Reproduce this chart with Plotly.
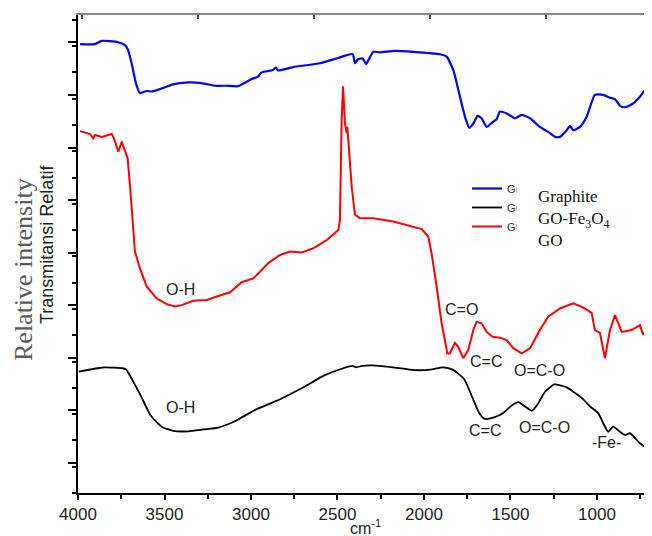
import plotly.graph_objects as go

# ---- data (wavenumber in cm^-1, relative intensity in arbitrary units 0-100) ----
graphite_wn = [3988,3902,3863,3769,3728,3711,3690,3665,3642,3603,3574,3526,3451,3364,3295,
               3208,3141,3075,2996,2960,2938,2873,2856,2844,2757,2601,2505,2412,2399,2383,
               2354,2335,2316,2293,2254,2168,2062,1908,1869,1831,1792,1763,1738,1715,1690,
               1667,1638,1600,1580,1561,1522,1474,1435,1387,1330,1272,1243,1214,1175,1156,
               1137,1098,1060,1012,964,925,896,867,838,790,752,723,682]
graphite_y = [93.9,93.9,94.6,94.3,93.7,92.7,89.9,85.7,83.7,84.1,84.0,84.5,85.5,85.9,85.8,
              85.2,85.2,85.1,86.6,87.1,88.0,88.5,89.0,88.4,89.1,89.9,90.9,91.8,89.9,90.7,
              90.9,89.7,90.9,92.3,92.2,92.5,92.3,91.8,91.3,88.5,82.9,78.7,76.4,77.3,78.9,
              78.4,76.6,77.7,78.2,79.8,79.4,78.4,79.1,78.4,76.6,75.3,74.5,74.5,75.9,76.8,
              75.9,76.6,78.7,83.3,83.3,82.7,82.4,81.0,80.7,81.5,82.9,84.2,83.0]

go_wn = [3988,3931,3912,3902,3863,3805,3792,3767,3747,3734,3713,3699,3684,3671,3642,
         3603,3545,3487,3439,3401,3334,3256,3198,3121,3054,2987,2948,2900,2832,2775,
         2707,2640,2563,2495,2486,2476,2468,2457,2447,2443,2418,2399,2370,2293,2178,
         2100,2013,1975,1956,1927,1898,1865,1850,1821,1802,1773,1744,1715,1696,1667,
         1638,1603,1561,1522,1484,1435,1387,1330,1282,1214,1137,1079,1031,1012,983,
         954,925,896,857,800,752,733,704,682]
go_y = [75.7,75.1,74.2,74.9,74.5,75.1,74.2,71.4,73.5,72.1,70.0,64.1,57.1,50.5,47.0,
        43.2,40.7,39.5,39.0,39.3,40.2,40.4,41.1,42.0,44.1,44.9,46.3,48.1,49.8,50.5,
        50.3,51.2,52.9,55.0,57.1,78.0,85.1,77.3,75.3,76.6,64.1,58.2,57.5,57.5,56.8,
        56.1,55.2,53.6,50.1,43.2,35.5,29.2,29.2,31.4,30.6,28.2,29.9,34.1,35.8,35.5,
        33.7,32.7,32.5,32.0,30.3,29.2,30.3,34.1,36.9,38.6,39.7,38.8,37.7,34.1,33.5,
        28.2,34.1,37.2,33.7,34.1,35.1,33.1,34.8,33.5]

gofe_wn = [3995,3886,3842,3744,3723,3679,3635,3580,3514,3450,3362,3275,3188,3100,2969,
           2838,2708,2576,2467,2413,2391,2358,2293,2184,2053,1965,1889,1835,1769,1726,
           1682,1649,1595,1540,1497,1453,1420,1376,1344,1300,1246,1180,1137,1082,1040,
           993,964,935,906,867,838,809,752,682]
gofe_y = [25.4,26.1,26.3,26.1,25.9,23.2,20.2,16.2,13.8,13.0,12.9,13.3,13.7,14.9,17.5,
          19.5,21.9,24.6,26.1,26.6,26.3,26.6,26.7,26.3,25.7,25.8,26.3,25.8,23.9,20.5,
          16.8,15.5,15.8,16.8,18.2,19.0,18.2,17.2,18.5,21.2,22.7,22.2,21.2,19.7,18.1,
          16.7,14.6,12.8,13.9,12.8,12.1,12.5,10.4,8.6]

# peak labels: (text, wavenumber, intensity)
labels_go = [("O-H", 3410, 42.5), ("C=O", 1782, 38.4), ("C=C", 1643, 27.6), ("O=C-O", 1335, 25.7)]
labels_gofe = [("O-H", 3410, 17.8), ("C=C", 1646, 13.0), ("O=C-O", 1301, 13.8), ("-Fe-", 944, 10.5)]

x_ticks_step = 500

fig = go.Figure()
fig.add_trace(go.Scatter(x=graphite_wn, y=graphite_y, mode="lines", name="Graphite",
                         line=dict(color="#0000FF", width=2.2, shape="spline", smoothing=0.5)))
fig.add_trace(go.Scatter(x=gofe_wn, y=gofe_y, mode="lines", name="GO-Fe3O4",
                         line=dict(color="#000000", width=1.8, shape="spline", smoothing=0.5)))
fig.add_trace(go.Scatter(x=go_wn, y=go_y, mode="lines", name="GO",
                         line=dict(color="#FF0000", width=2)))
# empty traces so the secondary (frame) axes get drawn
fig.add_trace(go.Scatter(x=[], y=[], xaxis="x2", yaxis="y", showlegend=False, hoverinfo="skip"))
fig.add_trace(go.Scatter(x=[], y=[], xaxis="x", yaxis="y2", showlegend=False, hoverinfo="skip"))

ann = []
for t, xv, yv in labels_go + labels_gofe:
    ann.append(dict(x=xv, y=yv, xref="x", yref="y", text=t, showarrow=False,
                    xanchor="center", yanchor="middle",
                    font=dict(family="Liberation Sans, Arial", size=16, color="#222")))

# overlaid serif legend labels (white box hides the original legend text)
ann.append(dict(x=(516 - 78) / 574, y=(493 - 218) / 478, xref="paper", yref="paper",
                xanchor="left", yanchor="middle", align="left", showarrow=False,
                text="Graphite<br>GO-Fe<sub>3</sub>O<sub>4</sub><br>GO",
                font=dict(family="Liberation Serif, Times New Roman", size=17, color="#111"),
                bgcolor="white", borderpad=21))

ann.append(dict(x=(47 - 78) / 574, y=(493 - 245) / 478, xref="paper", yref="paper",
                xanchor="center", yanchor="middle",
                text="Transmitansi Relatif", textangle=-90, showarrow=False,
                font=dict(family="Liberation Sans, Arial", size=18, color="#222")))
ann.append(dict(x=(23 - 78) / 574, y=(493 - 270) / 478, xref="paper", yref="paper",
                xanchor="center", yanchor="middle",
                text="Relative intensity", textangle=-90, showarrow=False,
                font=dict(family="Liberation Serif, Times New Roman", size=26, color="#5a5a5a")))
ann.append(dict(x=0.5, y=-(527 - 493) / 478, xref="paper", yref="paper",
                xanchor="center", yanchor="middle",
                text="cm<sup>-1</sup>", showarrow=False,
                font=dict(family="Liberation Sans, Arial", size=16, color="#222")))

fig.update_layout(
    width=644, height=528,
    margin=dict(l=70, r=0, t=7, b=43, pad=0),
    paper_bgcolor="white", plot_bgcolor="white",
    showlegend=True,
    legend=dict(x=(467 - 78) / 574, y=(493 - 174) / 478, xanchor="left", yanchor="top",
                bgcolor="rgba(0,0,0,0)", font=dict(family="Liberation Sans, Arial", size=11, color="#333"),
                tracegroupgap=0, itemwidth=30),
    annotations=ann,
    xaxis=dict(range=[4000, 682], tickmode="linear", tick0=0, dtick=x_ticks_step,
               ticks="outside", ticklen=5, tickwidth=1.5, tickcolor="black",
               minor=dict(dtick=x_ticks_step / 2, ticks="outside", ticklen=4, tickwidth=1.5, tickcolor="black"),
               showline=True, linecolor="black", linewidth=2, showgrid=False, zeroline=False,
               tickfont=dict(family="Liberation Sans, Arial", size=17, color="#222")),
    xaxis2=dict(overlaying="x", side="top", anchor="y", range=[4017, 1543], tickmode="linear", tick0=0, dtick=500,
                ticks="inside", ticklen=4, tickwidth=1.5, tickcolor="#444", showticklabels=False,
                showline=True, linecolor="#888", linewidth=2, showgrid=False, zeroline=False),
    yaxis=dict(range=[0, 100], tickmode="linear", tick0=6.28, dtick=11.0,
               ticks="outside", ticklen=8, tickwidth=1.5, tickcolor="black", showticklabels=False,
               minor=dict(dtick=5.5, ticks="outside", ticklen=4, tickwidth=1.5, tickcolor="black"),
               showline=True, linecolor="black", linewidth=2, showgrid=False, zeroline=False),
    yaxis2=dict(overlaying="y", side="right", anchor="x", range=[0, 100], tickmode="linear", tick0=0.5, dtick=19.95,
                ticks="inside", ticklen=4, tickwidth=1.5, tickcolor="#444", showticklabels=False,
                showline=False, showgrid=False, zeroline=False),
)

fig.write_html("out.html")
